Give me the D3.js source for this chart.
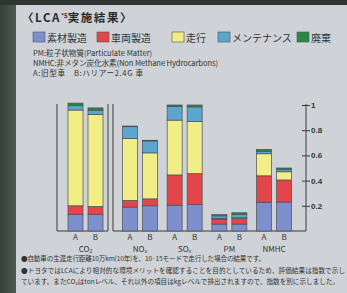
<!DOCTYPE html>
<html><head><meta charset="utf-8">
<script src="https://cdn.jsdelivr.net/npm/d3@7/dist/d3.min.js"></script>
<style>
html,body{margin:0;padding:0;background:#cfd3d7;}
svg{display:block;}
text{font-family:"Noto Sans CJK JP","Noto Sans",sans-serif;}
</style></head>
<body>
<svg id="c" width="347" height="293"></svg>
<script>
// ---- data ----
const groups = ["CO2", "NOx", "SOx", "PM", "NMHC"];
const vehicles = ["A", "B"];
const stages = ["素材製造", "車両製造", "走行", "メンテナンス", "廃棄"];
// bar order: CO2 A, CO2 B, NOx A, NOx B, SOx A, SOx B, PM A, PM B, NMHC A, NMHC B
const material    = [0.13, 0.13, 0.19, 0.20, 0.205, 0.21, 0.055, 0.055, 0.228, 0.23];
const vehicleMfg  = [0.07, 0.065, 0.053, 0.055, 0.24, 0.245, 0.04, 0.045, 0.21, 0.175];
const driving     = [0.76, 0.73, 0.49, 0.365, 0.435, 0.415, 0.005, 0.005, 0.175, 0.065];
const maintenance = [0.035, 0.034, 0.095, 0.095, 0.11, 0.115, 0.02, 0.025, 0.02, 0.02];
const disposal    = [0.02, 0.018, 0.005, 0.005, 0.01, 0.015, 0.01, 0.015, 0.015, 0.01];
const yTicks = [0.2, 0.4, 0.6, 0.8, 1];
const yTickLabels = ["0.2", "0.4", "0.6", "0.8", "1"];
const groupLabels = ["CO₂", "NOₓ", "SOₓ", "PM", "NMHC"];

const colors = ["#7d8fcd", "#e2464b", "#f1ee88", "#5aa6cf", "#2b8747"];

const series = [material, vehicleMfg, driving, maintenance, disposal];
const rows = [];
groups.forEach((g, gi) => vehicles.forEach((v, vi) => {
  const i = gi * 2 + vi;
  const r = {group: g, vehicle: v};
  stages.forEach((s, si) => r[s] = series[si][i]);
  rows.push(r);
}));
const stacked = d3.stack().keys(stages)(rows);

const svg = d3.select("#c");
// background / photo edges
svg.append("rect").attr("width", 347).attr("height", 293).attr("fill", "#cfd3d7");
const grad = svg.append("defs").append("linearGradient").attr("id", "lg").attr("x1", 0).attr("x2", 1);
grad.append("stop").attr("offset", 0).attr("stop-color", "#34413b");
grad.append("stop").attr("offset", 1).attr("stop-color", "#4b5a52");
svg.append("rect").attr("x", 0).attr("y", 0).attr("width", 16).attr("height", 293).attr("fill", "url(#lg)");
svg.append("rect").attr("x", 0).attr("y", 0).attr("width", 347).attr("height", 5).attr("fill", "#2f3632");

// scales
const y = d3.scaleLinear().domain([0, 1]).range([231, 105]);
const xCO2 = d3.scaleBand().domain(["CO2"]).range([63, 108]);
const xOther = d3.scaleBand().domain(groups.slice(1)).range([117.6, 296.4]);
const groupCenter = g => g === "CO2" ? xCO2(g) + xCO2.bandwidth() / 2 : xOther(g) + xOther.bandwidth() / 2;
const xInner = d3.scaleBand().domain(vehicles).range([-17.5, 17.5]).paddingInner(0.25);

// frames
const ink = "#3a3a3a";
const fr = svg.append("g").attr("stroke", ink).attr("stroke-width", 1).attr("fill", "none");
fr.append("path").attr("d", `M57,${y(1) - 1}V${y(0)}H108V${y(1) - 1}`);
fr.append("path").attr("d", `M113,${y(1) - 1}V${y(0)}H306`);

// bars
svg.append("g").selectAll("g").data(stacked).join("g")
  .attr("fill", (d, i) => colors[i])
  .selectAll("rect").data(d => d).join("rect")
  .attr("x", d => groupCenter(d.data.group) + xInner(d.data.vehicle))
  .attr("width", xInner.bandwidth())
  .attr("y", d => y(d[1]))
  .attr("height", d => y(d[0]) - y(d[1]))
  .attr("stroke", "#4a4f55").attr("stroke-width", 0.7);

// right axis
const ax = svg.append("g").attr("transform", "translate(306,0)")
  .call(d3.axisRight(y).tickValues(yTicks).tickFormat((d, i) => yTickLabels[i]).tickSize(4).tickPadding(2));
ax.select(".domain").attr("d", `M0,${y(1) - 1}V${y(0)}`).attr("stroke", ink);
ax.selectAll(".tick line").attr("x1", -4).attr("x2", 4).attr("stroke", ink);
ax.selectAll(".tick text").attr("x", 5).attr("fill", "#333").attr("font-size", 8).attr("font-weight", "bold")
  .style("font-family", "'Liberation Sans',Arial,sans-serif");

// vehicle labels
const lab = svg.append("g").attr("fill", "#333").style("font-family", "'DejaVu Sans','Liberation Sans',sans-serif");
rows.forEach(r => {
  lab.append("text").attr("x", groupCenter(r.group) + xInner(r.vehicle) + xInner.bandwidth() / 2)
    .attr("y", 240).attr("text-anchor", "middle").attr("font-size", 8).text(r.vehicle);
});
groups.forEach((g, i) => {
  lab.append("text").attr("x", groupCenter(g)).attr("y", 252).attr("text-anchor", "middle")
    .attr("font-size", 8).text(groupLabels[i]);
});

// title
const title = svg.append("text").attr("x", 22).attr("y", 22).attr("font-size", 11.5).attr("font-weight", "bold")
  .attr("fill", "#2a2a2a").attr("letter-spacing", 1.6);
title.append("tspan").text("〈LCA");
title.append("tspan").attr("font-size", 6).attr("dy", -4).attr("letter-spacing", 0).text("*5");
title.append("tspan").attr("dy", 4).text("実施結果〉");

// legend
const legX = [33, 97, 172, 218, 297];
const leg = svg.append("g");
stages.forEach((s, i) => {
  leg.append("rect").attr("x", legX[i]).attr("y", 32).attr("width", 12).attr("height", 10)
    .attr("fill", colors[i]).attr("stroke", "#555").attr("stroke-width", 0.6);
  leg.append("text").attr("x", legX[i] + 14).attr("y", 41.5).attr("font-size", 10).attr("fill", "#333").text(s);
});

// notes
const notes = svg.append("g").attr("fill", "#333").attr("font-size", 7.6);
notes.append("text").attr("x", 33).attr("y", 56).text("PM:粒子状物質(Particulate Matter)");
notes.append("text").attr("x", 33).attr("y", 65.5).attr("textLength", 185).attr("lengthAdjust", "spacing")
  .text("NMHC:非メタン炭化水素(Non Methane Hydrocarbons)");
notes.append("text").attr("x", 33).attr("y", 75.5).attr("textLength", 110).attr("lengthAdjust", "spacing")
  .text("A:旧型車　B:ハリアー2.4G 車");

// footer
const foot = svg.append("g").attr("fill", "#333").attr("font-size", 6.6);
foot.append("text").attr("x", 21).attr("y", 261).attr("textLength", 244).attr("lengthAdjust", "spacing")
  .text("●自動車の生涯走行距離10万km(10年)を、10·15モードで走行した場合の結果です。");
foot.append("text").attr("x", 21).attr("y", 272.5).attr("textLength", 324).attr("lengthAdjust", "spacing")
  .text("●トヨタではLCAにより相対的な環境メリットを確認することを目的としているため、評価結果は指数で示し");
foot.append("text").attr("x", 21).attr("y", 284).attr("textLength", 318).attr("lengthAdjust", "spacing")
  .text("ています。またCO₂はtonレベル、それ以外の項目はkgレベルで排出されますので、指数を別に示しました。");
</script>
</body></html>
